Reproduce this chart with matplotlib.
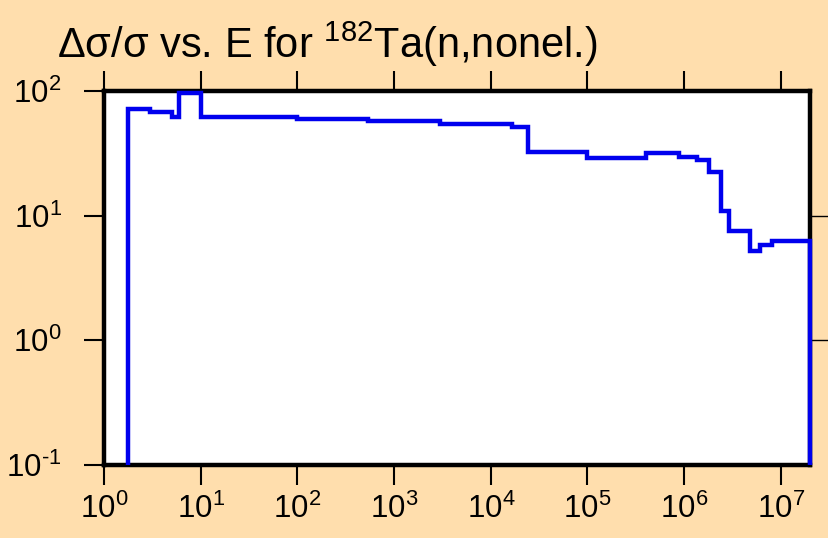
import math

import matplotlib
matplotlib.use("Agg")
import matplotlib.pyplot as plt
from matplotlib.ticker import FuncFormatter, NullLocator

# Relative uncertainty of the 182Ta(n,nonel.) cross section
ENERGY_EDGES = [1.77, 3.0, 5.0, 6.0, 10.0, 100.0, 540.0, 3.0e3, 1.67e4, 2.45e4,
                1.0e5, 4.0e5, 8.8e5, 1.36e6, 1.8e6, 2.4e6, 2.9e6, 4.8e6,
                6.1e6, 8.0e6, 2.0e7]
REL_UNC = [71.3, 67.9, 61.6, 96.0, 62.0, 59.4, 57.9, 54.1, 51.9, 32.7,
           28.9, 32.1, 29.8, 28.1, 22.4, 11.0, 7.49, 5.25, 5.78, 6.31]

X_TICKS = [1e0, 1e1, 1e2, 1e3, 1e4, 1e5, 1e6, 1e7]
Y_TICKS = [1e-1, 1e0, 1e1, 1e2]

BG = "#FFDEAD"
FONT = ["Liberation Sans", "DejaVu Sans"]

plt.rcParams["font.family"] = FONT
plt.rcParams["mathtext.fontset"] = "custom"
plt.rcParams["mathtext.rm"] = FONT[0]
plt.rcParams["mathtext.it"] = FONT[0]
plt.rcParams["mathtext.bf"] = FONT[0]
plt.rcParams["axes.unicode_minus"] = False


def pow10(v, pos):
    # plain hyphen for the exponent sign, like the original
    e = int(round(math.log10(v)))
    return r"$10^{%s}$" % str(e).replace("-", "\u2010")


fig = plt.figure(figsize=(8.29, 5.38), dpi=100, facecolor=BG)
ax = fig.add_axes([104 / 829, 73 / 538, 706 / 829, 374 / 538])
ax.set_facecolor("white")

ax.stairs(REL_UNC, ENERGY_EDGES, baseline=0.1, color="#0000EE", lw=3.2,
          zorder=5, clip_on=False)

ax.set_xscale("log")
ax.set_yscale("log")
ax.set_xlim(1, 2.0e7)
ax.set_ylim(0.1, 100)

ax.set_xticks(X_TICKS)
ax.set_yticks(Y_TICKS)
ax.xaxis.set_minor_locator(NullLocator())
ax.yaxis.set_minor_locator(NullLocator())
ax.xaxis.set_major_formatter(FuncFormatter(pow10))
ax.yaxis.set_major_formatter(FuncFormatter(pow10))

for s in ax.spines.values():
    s.set_linewidth(3.2)
    s.set_zorder(4)

ax.tick_params(which="major", direction="out", length=14.5, width=1.5,
               top=True, right=True, labelsize=22.5, colors="black")
ax.tick_params(axis="x", pad=6)
ax.tick_params(axis="y", pad=16)

# right-hand ticks only show at the inner decades
yt = ax.yaxis.get_major_ticks()
yt[0].tick2line.set_visible(False)
yt[-1].tick2line.set_visible(False)
for t in yt:
    t.tick2line.set_markeredgewidth(1.0)

fig.text(57 / 829, 1 - 58 / 538, r"Δσ/σ vs. E for $^{182}$Ta(n,nonel.)",
         fontsize=30, va="baseline", ha="left")

fig.savefig("out.png", dpi=100, facecolor=BG)
